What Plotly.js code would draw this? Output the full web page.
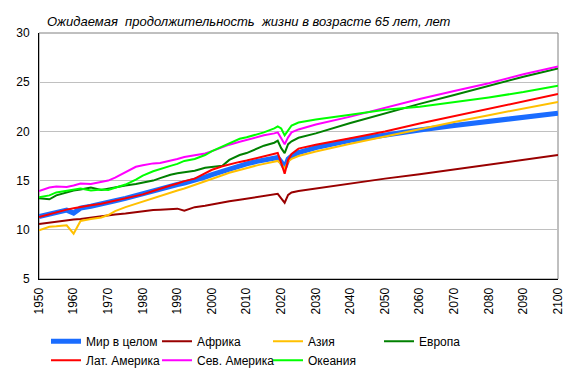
<!DOCTYPE html>
<html>
<head>
<meta charset="utf-8">
<script src="https://cdn.plot.ly/plotly-3.0.1.min.js"></script>
<style>html,body{margin:0;padding:0;background:#fff;}#chart{width:573px;height:371px;}</style>
</head>
<body>
<div id="chart"></div>
<script>
var years = [1950,1953,1955,1958,1960,1962,1965,1968,1970,1972,1975,1978,1980,1983,1985,1988,1990,1992,1995,1998,2000,2003,2005,2008,2010,2013,2015,2018,2019,2020,2021,2022,2023,2025,2030,2040,2050,2060,2070,2080,2090,2100];

var world   = [11.35,11.6,11.8,12.0,11.7,12.2,12.4,12.6,12.8,12.95,13.2,13.5,13.7,14.0,14.2,14.45,14.6,14.75,15.0,15.35,15.6,15.95,16.2,16.5,16.7,16.95,17.1,17.3,17.35,16.9,16.3,17.2,17.5,17.85,18.35,19.1,19.65,20.15,20.6,21.05,21.45,21.85];
var africa  = [10.6,10.75,10.85,10.95,11.05,11.1,11.25,11.35,11.45,11.55,11.65,11.8,11.9,12.0,12.05,12.1,12.15,11.95,12.3,12.45,12.6,12.8,12.9,13.05,13.15,13.3,13.4,13.6,13.65,13.2,12.75,13.55,13.8,13.95,14.2,14.75,15.2,15.65,16.15,16.6,17.1,17.6];
var asia    = [9.95,10.3,10.35,10.45,9.6,10.9,11.1,11.25,11.5,11.9,12.3,12.65,12.85,13.2,13.45,13.8,14.0,14.2,14.55,14.95,15.2,15.55,15.8,16.1,16.3,16.55,16.7,16.95,17.0,16.7,16.2,16.95,17.2,17.5,17.95,18.75,19.5,20.25,20.95,21.65,22.3,23.0];
var europe  = [13.2,13.1,13.5,13.8,14.0,14.1,14.3,14.05,14.2,14.3,14.5,14.65,14.8,15.0,15.25,15.6,15.75,15.85,16.0,16.3,16.35,16.5,17.1,17.6,17.8,18.3,18.55,18.85,19.05,18.3,17.8,18.7,19.0,19.35,19.8,20.85,21.85,22.8,23.7,24.65,25.55,26.4];
var latam   = [11.3,11.6,11.8,12.05,12.2,12.35,12.5,12.65,12.8,12.95,13.15,13.4,13.6,13.95,14.2,14.5,14.7,14.95,15.2,15.75,16.1,16.45,16.65,16.9,17.05,17.3,17.45,17.7,17.8,16.8,15.7,17.1,17.7,18.25,18.65,19.3,20.0,20.8,21.55,22.3,23.05,23.8];
var namerica= [13.95,14.3,14.4,14.35,14.5,14.7,14.65,14.85,15.0,15.3,15.85,16.4,16.55,16.75,16.8,17.0,17.2,17.4,17.6,17.75,18.0,18.4,18.65,18.95,19.15,19.45,19.6,19.8,19.9,19.3,18.7,19.4,19.9,20.2,20.7,21.5,22.4,23.3,24.1,24.9,25.8,26.6];
var oceania = [13.3,13.5,13.8,14.0,14.1,14.2,14.0,14.1,14.05,14.25,14.6,15.1,15.5,15.95,16.2,16.5,16.7,17.0,17.2,17.6,18.0,18.5,18.8,19.25,19.4,19.7,19.9,20.3,20.5,20.3,19.6,20.1,20.6,20.9,21.2,21.7,22.2,22.5,22.95,23.45,24.0,24.65];

var names = ["Мир в целом","Африка","Азия","Европа","Лат. Америка","Сев. Америка","Океания"];
var seriesList = [world, africa, asia, europe, latam, namerica, oceania];
var colors = ["#1a6cff","#990000","#ffc000","#008000","#ff0000","#ff00ff","#00ff00"];
var widths = [5,2,2,2,2,2,2];

var xTicks = [1950,1960,1970,1980,1990,2000,2010,2020,2030,2040,2050,2060,2070,2080,2090,2100];
var yTicks = [5,10,15,20,25,30];
var titleText = "Ожидаемая\u00A0 продолжительность\u00A0 жизни в возрасте 65 лет, лет";

var traces = seriesList.map(function(s, i){
  return {x: years, y: s, type: 'scatter', mode: 'lines', name: names[i],
          line: {color: colors[i], width: widths[i]}};
});

var layout = {
  width: 573, height: 371,
  margin: {l: 39, r: 15, t: 33, b: 92, autoexpand: false},
  paper_bgcolor: '#fff', plot_bgcolor: '#fff',
  font: {family: 'Liberation Sans, Arial, sans-serif', size: 12, color: '#000'},
  title: {text: titleText, x: 47/573, xanchor: 'left', xref: 'container',
          y: 1 - 21.5/371, yanchor: 'middle', yref: 'container',
          font: {family: 'Liberation Sans, Arial, sans-serif', size: 13, style: 'italic', color: '#000'}},
  xaxis: {range: [1950, 2100], tickvals: xTicks, ticktext: xTicks.map(String), tickangle: -90,
          showgrid: false, zeroline: false, showline: true, linecolor: '#000', linewidth: 1,
          ticks: 'outside', ticklen: 3, tickcolor: 'rgba(0,0,0,0)', tickfont: {size: 12}},
  yaxis: {range: [5, 30], tickvals: yTicks, showgrid: true, gridcolor: '#c0c0c0', gridwidth: 1,
          zeroline: false, showline: true, linecolor: '#000', linewidth: 1,
          ticks: 'outside', ticklen: 6, tickcolor: 'rgba(0,0,0,0)', tickfont: {size: 12}},
  shapes: [{type: 'rect', xref: 'paper', yref: 'paper', x0: 0, x1: 1, y0: 0, y1: 1,
            line: {color: '#808080', width: 1}, layer: 'below'}],
  showlegend: true,
  legend: {orientation: 'h', x: 0.0135, xanchor: 'left', y: -0.194, yanchor: 'top',
           entrywidth: 66, entrywidthmode: 'pixels', font: {size: 12},
           bgcolor: 'rgba(0,0,0,0)', traceorder: 'normal'}
};

Plotly.newPlot('chart', traces, layout, {displayModeBar: false, staticPlot: true});
</script>
</body>
</html>
